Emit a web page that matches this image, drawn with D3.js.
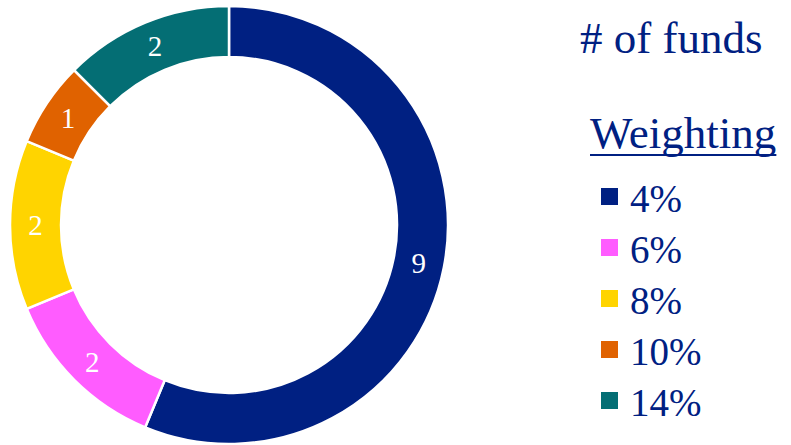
<!DOCTYPE html>
<html>
<head>
<meta charset="utf-8">
<script src="https://cdn.jsdelivr.net/npm/d3@7"></script>
<style>
  html, body { margin: 0; padding: 0; background: #fff; }
  svg { display: block; }
  svg text { font-family: "Liberation Serif", "Times New Roman", Tinos, "DejaVu Serif", "Noto Serif", serif; }
</style>
</head>
<body>
<svg id="chart" width="791" height="445"></svg>
<script>
const categories = ["4%", "6%", "8%", "10%", "14%"];
const fundCounts = [9, 2, 2, 1, 2];
const colors = ["#002082", "#FF5CFF", "#FFD400", "#E06200", "#046E74"];
const legendTitle = "# of funds";
const legendSubtitle = "Weighting";

const W = 791, H = 445;
const svg = d3.select("#chart");
const textColor = "#002082";

const cx = 229, cy = 225, outerR = 219, innerR = 168;

const pie = d3.pie().sort(null).value(d => d.v).startAngle(0).endAngle(2 * Math.PI);
const data = categories.map((c, i) => ({ c, v: fundCounts[i], color: colors[i] }));
const arcs = pie(data);
const arc = d3.arc().innerRadius(innerR).outerRadius(outerR);

const g = svg.append("g").attr("transform", `translate(${cx},${cy})`);
g.selectAll("path.slice")
  .data(arcs)
  .join("path")
  .attr("class", "slice")
  .attr("d", arc)
  .attr("fill", d => d.data.color)
  .attr("stroke", "#fff")
  .attr("stroke-width", 2.5);

g.selectAll("text.lbl")
  .data(arcs)
  .join("text")
  .attr("class", "lbl")
  .attr("transform", d => `translate(${arc.centroid(d)})`)
  .attr("text-anchor", "middle")
  .attr("dy", "0.35em")
  .attr("fill", "#fff")
  .attr("font-size", 29)
  .text(d => d.data.v);

// Legend
svg.append("text")
  .attr("x", 580).attr("y", 53)
  .attr("fill", textColor)
  .attr("font-size", 45)
  .text(legendTitle);

const sub = svg.append("text")
  .attr("x", 590).attr("y", 148)
  .attr("fill", textColor)
  .attr("font-size", 45)
  .text(legendSubtitle);
const subW = sub.node().getComputedTextLength();
svg.append("line")
  .attr("x1", 590).attr("x2", 590 + subW)
  .attr("y1", 155).attr("y2", 155)
  .attr("stroke", textColor)
  .attr("stroke-width", 2);

const rowY = d3.scalePoint().domain(categories).range([212, 416]);
const items = svg.selectAll("g.item")
  .data(data)
  .join("g")
  .attr("class", "item")
  .attr("transform", d => `translate(0,${rowY(d.c)})`);
items.append("rect")
  .attr("x", 601).attr("y", -24)
  .attr("width", 17).attr("height", 17)
  .attr("fill", d => d.color);
items.append("text")
  .attr("x", 630).attr("y", 0)
  .attr("fill", textColor)
  .attr("font-size", 39)
  .text(d => d.c);
</script>
</body>
</html>
